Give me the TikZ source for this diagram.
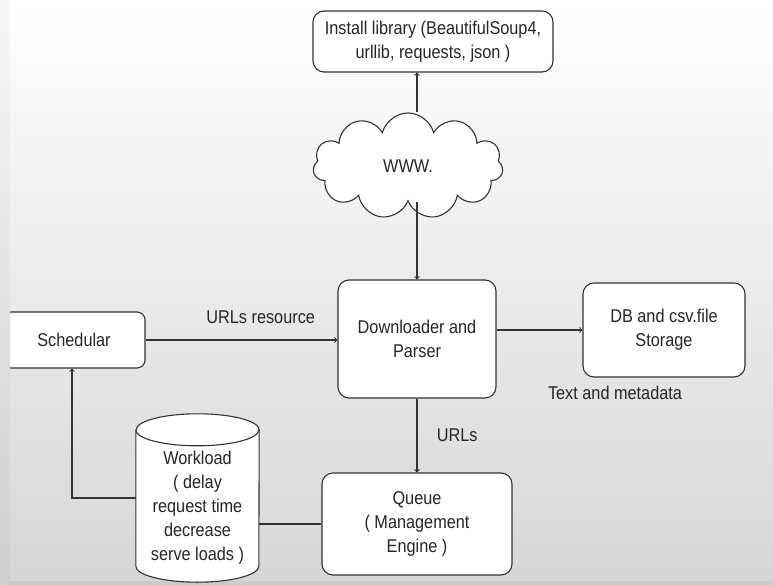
\documentclass[tikz,border=0pt]{standalone}
\usepackage{fontspec}
\setmainfont[FakeStretch=0.88]{Liberation Sans}
\usetikzlibrary{shapes.symbols}

\begin{document}
\begin{tikzpicture}[x=1pt,y=-1pt,
    every node/.style={font=\fontsize{18.5}{24}\selectfont, text=black!85},
    box/.style={draw=black!80, line width=1.1pt, rounded corners=11pt, fill=white, align=center},
    line/.style={draw=black!80, line width=1.1pt}]
    \shade[top color=white, bottom color=black!16] (0,0) rectangle (773,585);
    \useasboundingbox (0,0) rectangle (773,585);

    \node[box, minimum width=240pt, minimum height=61pt] (lib) at (433,41.5) {Install library (BeautifulSoup4,\\urllib, requests, json )};
    \node[cloud, cloud puffs=11, aspect=1.8, draw=black!80, line width=1.1pt, fill=white,
      minimum width=190pt, minimum height=106pt] (www) at (408,166) {WWW.};
    \node[box, minimum width=158pt, minimum height=118pt] (dp) at (417,339) {Downloader and\\Parser};
    \node[box, minimum width=162pt, minimum height=94pt] (store) at (664,330) {DB and csv.file\\Storage};
    \node[box, rounded corners=8pt, minimum width=142pt, minimum height=56pt] (sched) at (74,340) {Schedular};
    \node[box, minimum width=190pt, minimum height=102pt] (queue) at (417,524) {Queue\\( Management\\Engine )};
    \node (meta) at (615,393) {Text and metadata};

    \node[minimum width=123pt, minimum height=168pt, inner sep=0pt] (work) at (197.5,498) {};
    \draw[line, fill=white] ([yshift=-16pt]work.north west) -- ([yshift=16pt]work.south west)
      arc[start angle=180, end angle=360, x radius=61.5pt, y radius=16pt]
      -- ([yshift=-16pt]work.north east)
      arc[start angle=0, end angle=180, x radius=61.5pt, y radius=16pt] -- cycle;
    \draw[line] ([yshift=-16pt]work.north west) arc[start angle=180, end angle=360, x radius=61.5pt, y radius=16pt];
    \node[align=center] (worktext) at (197.5,508) {Workload\\( delay\\request time\\decrease\\serve loads )};

    \draw[line,->] (www.north -| dp.north) -- (lib.south -| dp.north);
    \draw[line,->] (www.south -| dp.north) -- (dp.north);
    \draw[line,->] (sched.east) -- (sched.east -| dp.west) node[pos=0.6, above=12pt] (res) {URLs resource};
    \draw[line,->] (store.west -| dp.east) -- (store.west);
    \draw[line,->] (dp.south) -- (queue.north) node[midway, right=16pt] (urls) {URLs};
    \draw[line] (queue.west) -- (queue.west -| work.east);
    \draw[line,->] (work.west) -| ([xshift=-2pt]sched.south);

    \shade[top color=black!3, bottom color=black!19] (0,0) rectangle (10,585);
    \fill[black, opacity=0.05] (10,581) rectangle (773,585);
\end{tikzpicture}
\end{document}
